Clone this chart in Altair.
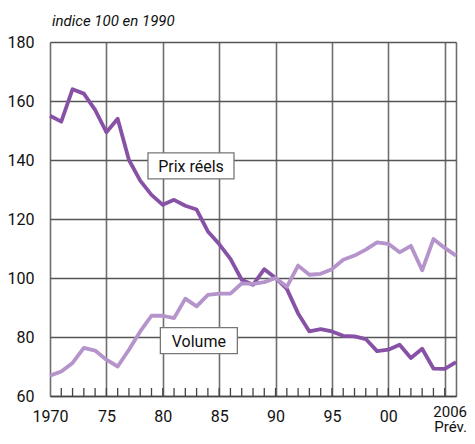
import altair as alt
import pandas as pd

years = list(range(1970, 2007))
prix = [155, 153, 164, 162.5, 157, 149.4, 154, 140, 133, 128.2, 124.8, 126.5, 124.5, 123.2,
        115.8, 111.5, 106.5, 99.4, 97.7, 103, 100, 96.3, 88, 81.9, 82.7, 81.9, 80.4, 80.2,
        79.3, 75.2, 75.7, 77.4, 72.9, 76, 69.3, 69.2, 71.5]
volume = [66.9, 68.3, 71.2, 76.3, 75.4, 72.3, 70, 75.7, 81.9, 87.2, 87.2, 86.4, 93, 90.4,
          94.3, 94.7, 94.7, 98.2, 98, 98.6, 100, 97, 104.2, 101.1, 101.4, 103, 106.2, 107.6,
          109.6, 112.1, 111.6, 108.7, 110.9, 102.6, 113.2, 110.2, 107.6]
series_names = ["Prix réels", "Volume"]
series_colors = ["#8752a6", "#b593cb"]
label_years = [1982.5, 1983.2]
label_values = [138.0, 78.8]
x_tick_values = [1970, 1975, 1980, 1985, 1990, 1995, 2000, 2005, 2006]
y_tick_values = [60, 80, 100, 120, 140, 160, 180]
minor_years = list(range(1971, 2006))
last_year_lines = ["2006", "Prév."]

df = pd.DataFrame({
    "year": years * 2,
    "value": prix + volume,
    "serie": ["Prix réels"] * len(years) + ["Volume"] * len(years),
})
labels_df = pd.DataFrame({"year": label_years, "value": label_values, "serie": series_names})
minor_df = pd.DataFrame({"year": minor_years})
last_df = pd.DataFrame({"year": [years[-1]], "txt": ["\n".join(last_year_lines)]})

W, H = 406, 354
FONT = "Roboto"

xscale = alt.Scale(domain=[1970, 2006], nice=False, zero=False)
yscale = alt.Scale(domain=[60, 180], nice=False, zero=False)

x_axis = alt.Axis(
    values=x_tick_values,
    labelExpr="datum.value == 1970 ? '1970' : datum.value >= 2005 ? '' : (datum.value == 2000 ? '00' : substring(toString(datum.value), 2, 4))",
    grid=True, gridColor="#6e6e6e", gridWidth=1.6, gridOpacity=1,
    ticks=False, domain=True, domainColor="#444444", domainWidth=1.6,
    labelFont=FONT, labelFontSize=16, labelColor="#111111", labelPadding=12,
    labelFlush=False, labelOverlap=False, title=None,
)
y_axis = alt.Axis(
    values=y_tick_values,
    grid=True, gridColor="#555555", gridWidth=1.6, gridOpacity=1,
    ticks=False, domain=False,
    labelFont=FONT, labelFontSize=16, labelColor="#111111", labelPadding=16,
    title=None,
)

lines = alt.Chart(df).mark_line(strokeWidth=3.8, strokeJoin="round").encode(
    x=alt.X("year:Q", scale=xscale, axis=x_axis),
    y=alt.Y("value:Q", scale=yscale, axis=y_axis),
    color=alt.Color("serie:N", scale=alt.Scale(domain=series_names, range=series_colors), legend=None),
    detail="serie:N",
)

minor = alt.Chart(minor_df).mark_rule(color="#444444", strokeWidth=1.3).encode(
    x=alt.X("year:Q", scale=xscale),
    y=alt.value(H),
    y2=alt.value(H - 8),
)


def box(name, w):
    return alt.Chart(labels_df).transform_filter(
        alt.datum.serie == name
    ).mark_rect(
        fill="white", stroke="#777777", strokeWidth=1.3, height=26, width=w
    ).encode(
        x=alt.X("year:Q", scale=xscale),
        y=alt.Y("value:Q", scale=yscale),
    )


texts = alt.Chart(labels_df).mark_text(
    font=FONT, fontSize=16, color="#111111", align="center", baseline="middle", dy=1
).encode(
    x=alt.X("year:Q", scale=xscale),
    y=alt.Y("value:Q", scale=yscale),
    text="serie:N",
)

last_label = alt.Chart(last_df).mark_text(
    font=FONT, fontSize=15, lineHeight=15, lineBreak="\n", color="#111111",
    align="right", baseline="top", dx=11
).encode(
    x=alt.X("year:Q", scale=xscale),
    y=alt.value(H + 9),
    text="txt:N",
)

chart = alt.layer(
    minor, lines, box("Prix réels", 86), box("Volume", 77), texts, last_label,
).properties(
    width=W, height=H,
    autosize=alt.AutoSizeParams(type="none"),
    padding={"left": 42, "top": 34, "right": 11, "bottom": 40},
    title=alt.TitleParams(
        "indice 100 en 1990", anchor="start", frame="group", font=FONT,
        fontSize=15, fontStyle="italic", fontWeight="normal", color="#111111",
        offset=5, dx=2,
    ),
).configure_view(stroke=None).configure(background="white")

chart.save("out.html", embed_options={"renderer": "svg", "actions": False})
